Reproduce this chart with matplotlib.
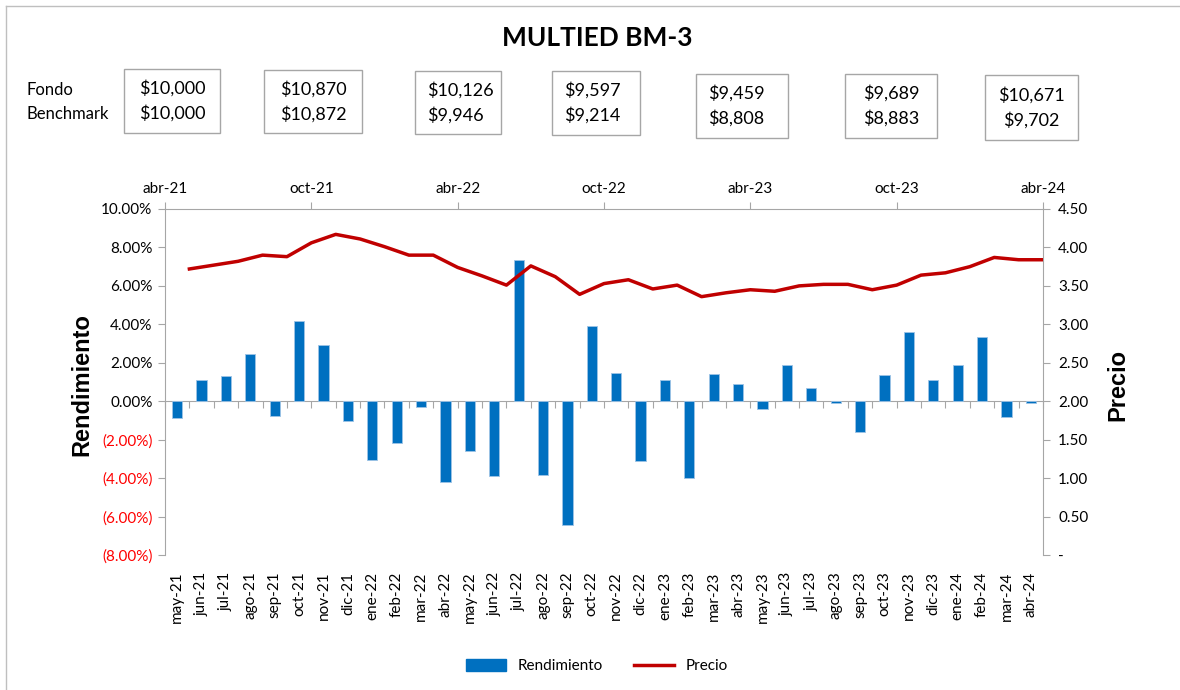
import matplotlib
matplotlib.use("Agg")
import matplotlib.pyplot as plt
from matplotlib.lines import Line2D
from matplotlib.patches import Rectangle
from matplotlib.ticker import FuncFormatter

plt.rcParams["font.family"] = ["Lato", "DejaVu Sans"]

months = ["may-21", "jun-21", "jul-21", "ago-21", "sep-21", "oct-21", "nov-21", "dic-21",
          "ene-22", "feb-22", "mar-22", "abr-22", "may-22", "jun-22", "jul-22", "ago-22",
          "sep-22", "oct-22", "nov-22", "dic-22", "ene-23", "feb-23", "mar-23", "abr-23",
          "may-23", "jun-23", "jul-23", "ago-23", "sep-23", "oct-23", "nov-23", "dic-23",
          "ene-24", "feb-24", "mar-24", "abr-24"]
rendimiento = [-0.87, 1.13, 1.29, 2.47, -0.75, 4.16, 2.94, -1.01,
               -3.05, -2.18, -0.28, -4.18, -2.58, -3.90, 7.33, -3.83,
               -6.45, 3.92, 1.48, -3.12, 1.13, -3.97, 1.41, 0.91,
               -0.42, 1.88, 0.68, -0.09, -1.59, 1.34, 3.59, 1.08,
               1.88, 3.33, -0.82, -0.08]
precio = [3.72, 3.77, 3.82, 3.90, 3.88, 4.06, 4.17, 4.11,
          4.01, 3.90, 3.90, 3.74, 3.63, 3.51, 3.76, 3.62,
          3.39, 3.53, 3.58, 3.46, 3.51, 3.36, 3.41, 3.45,
          3.43, 3.50, 3.52, 3.52, 3.45, 3.51, 3.64, 3.67,
          3.75, 3.87, 3.84, 3.84]
top_labels = ["abr-21", "oct-21", "abr-22", "oct-22", "abr-23", "oct-23", "abr-24"]
fondo = ["$10,000", "$10,870", "$10,126", "$9,597", "$9,459", "$9,689", "$10,671"]
benchmark = ["$10,000", "$10,872", "$9,946", "$9,214", "$8,808", "$8,883", "$9,702"]

BLUE = "#0070C0"
RED = "#C00000"
GREY = "#A6A6A6"
W, H = 1180, 690

fig = plt.figure(figsize=(11.8, 6.9), dpi=100)
ax = fig.add_axes([165 / W, 1 - 555 / H, 878 / W, 346 / H])

x = list(range(len(months)))
ax.bar(x, [v / 100 for v in rendimiento], width=0.42, color=BLUE,
       edgecolor="#9DC3E6", linewidth=0.6, zorder=2)
ax.set_xlim(-0.5, len(months) - 0.5)
ax.set_ylim(-0.08, 0.10)
ax.set_yticks([i / 100 for i in range(-8, 11, 2)])


def pct(v, _):
    v = round(v * 100, 2)
    return f"({abs(v):.2f}%)" if v < 0 else f"{v:.2f}%"


ax.yaxis.set_major_formatter(FuncFormatter(pct))
ax.tick_params(axis="y", labelsize=11, length=5, color=GREY, pad=4)
for lab, val in zip(ax.get_yticklabels(), ax.get_yticks()):
    lab.set_color("#FF0000" if val < -1e-9 else "black")

ax.set_xticks(x)
ax.set_xticklabels(months, rotation=90, fontsize=11)
ax.tick_params(axis="x", length=0, pad=12)
for side in ("bottom", "top", "right"):
    ax.spines[side].set_visible(False)
ax.spines["left"].set_color(GREY)

# category axis crossing at zero
zero_frac = 8 / 18
zax = ax.secondary_xaxis(zero_frac)
zax.set_xticks([i - 0.5 for i in range(len(months) + 1)])
zax.set_xticklabels([])
zax.tick_params(axis="x", direction="out", length=5, color=GREY)
zax.spines["bottom"].set_color(GREY)

# top date axis
tax = ax.secondary_xaxis("top")
tax.set_xticks([-0.5 + 6 * i for i in range(len(top_labels))])
tax.set_xticklabels(top_labels, fontsize=11)
tax.tick_params(axis="x", direction="out", length=5, color=GREY, pad=4)
tax.spines["top"].set_color(GREY)

ax2 = ax.twinx()
ax2.plot([i + 0.5 for i in x], precio, color=RED, linewidth=2.5, zorder=3)
ax2.set_ylim(0, 4.5)
ax2.set_yticks([i * 0.5 for i in range(10)])
ax2.yaxis.set_major_formatter(FuncFormatter(lambda v, _: "-" if abs(v) < 1e-9 else f"{v:.2f}"))
ax2.tick_params(axis="y", labelsize=11, length=5, color=GREY, pad=6)
for side in ("bottom", "top", "left"):
    ax2.spines[side].set_visible(False)
ax2.spines["right"].set_color(GREY)

fig.text(82 / W, 1 - 385 / H, "Rendimiento", rotation=90, ha="center", va="center",
         fontsize=17, fontweight="bold", family="Liberation Sans")
fig.text(1118 / W, 1 - 385 / H, "Precio", rotation=90, ha="center", va="center",
         fontsize=17, fontweight="bold", family="Liberation Sans")

fig.text(597 / W, 1 - 38 / H, "MULTIED BM-3", ha="center", va="center",
         fontsize=19, fontweight="bold")

fig.text(27 / W, 1 - 90 / H, "Fondo", ha="left", va="center", fontsize=12)
fig.text(27 / W, 1 - 114 / H, "Benchmark", ha="left", va="center", fontsize=12)

# value boxes: centre x, centre y, width, height, alignment
boxes = [(172, 101, 96, 64, "center"), (313, 101.5, 98, 63, "center"),
         (458, 102.5, 86, 63, "left"), (596, 103, 88, 64, "left"),
         (742, 106, 92, 64, "left"), (891, 106, 92, 64, "center"),
         (1031.5, 107.5, 93, 65, "center")]
for (cx, cy, bw, bh, align), f_val, b_val in zip(boxes, fondo, benchmark):
    fig.patches.append(Rectangle(((cx - bw / 2) / W, 1 - (cy + bh / 2) / H), bw / W, bh / H,
                                 transform=fig.transFigure, fill=False,
                                 edgecolor="#A6A6A6", linewidth=1.0))
    tx = cx if align == "center" else cx - bw / 2 + 12
    fig.text(tx / W, 1 - (cy - 12.5) / H, f_val, ha=align, va="center", fontsize=13)
    fig.text(tx / W, 1 - (cy + 12.5) / H, b_val, ha=align, va="center", fontsize=13)

handles = [Rectangle((0, 0), 1, 1, color=BLUE), Line2D([], [], color=RED, linewidth=2.5)]
fig.legend(handles, ["Rendimiento", "Precio"], loc="center", bbox_to_anchor=(597 / W, 1 - 666 / H),
           ncol=2, frameon=False, fontsize=11, handlelength=2.6, handleheight=0.8,
           columnspacing=2.0)

# chart border
fig.add_artist(Line2D([6 / W, 6 / W], [0, 1 - 6 / H], transform=fig.transFigure,
                      color="#BFBFBF", linewidth=1.0))
fig.add_artist(Line2D([6 / W, 1], [1 - 6 / H, 1 - 6 / H], transform=fig.transFigure,
                      color="#BFBFBF", linewidth=1.0))

fig.savefig("out.png", dpi=100)
